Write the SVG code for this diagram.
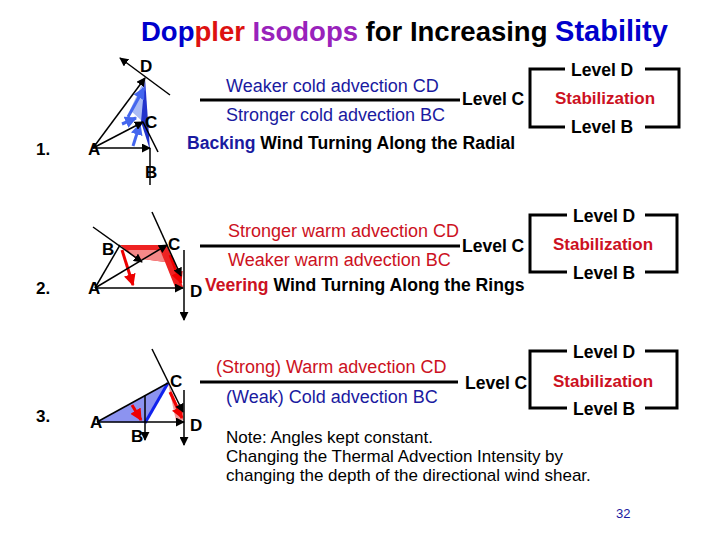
<svg xmlns="http://www.w3.org/2000/svg" width="720" height="540" viewBox="0 0 720 540">
<defs>
<marker id="ah" viewBox="0 0 10 10" refX="9" refY="5" markerWidth="6" markerHeight="6" orient="auto-start-reverse"><path d="M0,0L10,5L0,10z" fill="#000"/></marker>
<marker id="ab" viewBox="0 0 10 10" refX="9" refY="5" markerWidth="4" markerHeight="4" orient="auto"><path d="M0,0L10,5L0,10z" fill="#4466ee"/></marker>
<marker id="ar" viewBox="0 0 10 10" refX="9" refY="5" markerWidth="4" markerHeight="4" orient="auto"><path d="M0,0L10,5L0,10z" fill="#e00"/></marker>
</defs>
<style>
text{font-family:"Liberation Sans",Arial,sans-serif}
.b{font-weight:bold;font-size:17.6px;fill:#000}
.lb{font-weight:bold;font-size:17px;fill:#000}
.lv{font-weight:bold;font-size:17.5px}
.st{font-weight:bold;font-size:17px;fill:#cc1122}
.ls{stroke:#000;stroke-width:1.5;fill:none}
.brk{stroke:#000;stroke-width:3;fill:none}
.bl{font-size:18px;fill:#1a1aa0}
.rd{font-size:18px;fill:#cc1122}
.bw{stroke:#4466ee;stroke-width:3;fill:none;marker-end:url(#ab)}
.rw{stroke:#e00;stroke-width:3;fill:none;marker-end:url(#ar)}
</style>
<rect width="720" height="540" fill="#fff"/>
<text x="141" y="41" font-size="27.5" font-weight="bold"><tspan fill="#0000cc">Dop</tspan><tspan fill="#dd1111">pler</tspan> <tspan fill="#9922bb">Isodops</tspan> <tspan fill="#000">for Increasing</tspan> <tspan fill="#0000cc" font-size="29">Stability</tspan></text>

<g id="hodo1">
<polygon points="130,110 145,78 143,122" fill="#aabbf5"/>
<polygon points="145,78 150,150 141,122" fill="#2233cc"/>
<path class="bw" d="M128,117 L144,88"/><path class="bw" d="M122,124 L136,118"/><path class="bw" d="M133,146 L140,124"/>
<line class="ls" x1="93" y1="148" x2="145" y2="78" marker-end="url(#ah)"/>
<line class="ls" x1="93" y1="148" x2="143" y2="122" marker-end="url(#ah)"/>
<line class="ls" x1="93" y1="148" x2="150" y2="148" marker-end="url(#ah)"/>
<line class="ls" x1="150" y1="148" x2="150" y2="185"/>
<line class="ls" x1="143" y1="122" x2="158" y2="152"/>
<line class="ls" x1="170" y1="95" x2="120" y2="58" marker-end="url(#ah)"/>
<text x="140" y="72" class="lb">D</text><text x="145" y="128" class="lb">C</text><text x="88" y="155" class="lb">A</text><text x="145" y="178" class="lb">B</text>
<text x="36" y="155" class="lb">1.</text>
</g>

<g id="hodo2">
<polygon points="120,245 167,245 183,287 175,287 165,262 135,258" fill="#ee2222"/>
<polygon points="135,258 165,262 160,250 128,250" fill="#f58888"/>
<path class="rw" d="M122,250 L133,285"/><path class="rw" d="M170,255 L181,283"/>
<line class="ls" x1="95" y1="288" x2="120" y2="245"/>
<line class="ls" x1="95" y1="288" x2="167" y2="245" marker-end="url(#ah)"/>
<line class="ls" x1="95" y1="288" x2="183" y2="288" marker-end="url(#ah)"/>
<line class="ls" x1="93" y1="227" x2="142" y2="262" marker-end="url(#ah)"/>
<line class="ls" x1="152" y1="212" x2="181" y2="276" marker-end="url(#ah)"/>
<line class="ls" x1="184" y1="250" x2="184" y2="320" marker-end="url(#ah)"/>
<text x="102" y="255" class="lb">B</text><text x="168" y="250" class="lb">C</text><text x="88" y="294" class="lb">A</text><text x="190" y="297" class="lb">D</text>
<text x="36" y="294" class="lb">2.</text>
</g>

<g id="hodo3">
<polygon points="97,422 168,383 145,423" fill="#8c93f0"/>
<polygon points="168,383 184,420 176,421" fill="#f49999"/>
<path class="rw" d="M132,405 L141,420"/><path class="rw" d="M170,392 L182,418"/>
<line x1="145" y1="423" x2="168" y2="383" stroke="#1122ee" stroke-width="3"/>
<line class="ls" x1="97" y1="422" x2="168" y2="383"/>
<line class="ls" x1="97" y1="422" x2="184" y2="422" marker-end="url(#ah)"/>
<line class="ls" x1="152" y1="349" x2="183" y2="412" marker-end="url(#ah)"/>
<line class="ls" x1="145" y1="395" x2="145" y2="440" marker-end="url(#ah)"/>
<line class="ls" x1="184" y1="390" x2="184" y2="445" marker-end="url(#ah)"/>
<text x="170" y="387" class="lb">C</text><text x="90" y="428" class="lb">A</text><text x="131" y="442" class="lb">B</text><text x="190" y="431" class="lb">D</text>
<text x="36" y="422" class="lb">3.</text>
</g>

<g id="connectors">
<line class="brk" x1="200" y1="100" x2="460" y2="100"/>
<line class="brk" x1="200" y1="246" x2="460" y2="246"/>
<line class="brk" x1="200" y1="382" x2="458" y2="382"/>
<path class="brk" d="M565,69 H530 V127 H565 M645,69 H679 V127 H645"/>
<path class="brk" d="M567,215 H530 V272 H567 M645,215 H677 V272 H645"/>
<path class="brk" d="M567,351 H530 V408 H567 M645,351 H677 V408 H645"/>
</g>

<g id="text1">
<text x="226" y="92" class="bl">Weaker cold advection CD</text>
<text x="226" y="121" class="bl">Stronger cold advection BC</text>
<text x="462" y="105" class="lv">Level C</text>
<text x="187" y="149" class="b"><tspan fill="#1a1aa0">Backing</tspan> Wind Turning Along the Radial</text>
<text x="571" y="76" class="lv">Level D</text><text x="555" y="104" class="st">Stabilization</text><text x="571" y="133" class="lv">Level B</text>
</g>
<g id="text2">
<text x="228" y="237" class="rd">Stronger warm advection CD</text>
<text x="228" y="266" class="rd">Weaker warm advection BC</text>
<text x="462" y="252" class="lv">Level C</text>
<text x="205" y="291" class="b"><tspan fill="#cc1122">Veering</tspan> Wind Turning Along the Rings</text>
<text x="573" y="222" class="lv">Level D</text><text x="553" y="250" class="st">Stabilization</text><text x="573" y="279" class="lv">Level B</text>
</g>
<g id="text3">
<text x="216" y="373" class="rd">(Strong) Warm advection CD</text>
<text x="226" y="403" class="bl">(Weak) Cold advection BC</text>
<text x="465" y="389" class="lv">Level C</text>
<text x="573" y="358" class="lv">Level D</text><text x="553" y="387" class="st">Stabilization</text><text x="573" y="415" class="lv">Level B</text>
<text x="226" y="443" font-size="17">Note: Angles kept constant.</text>
<text x="226" y="462" font-size="17">Changing the Thermal Advection Intensity by</text>
<text x="226" y="481" font-size="17">changing the depth of the directional wind shear.</text>
<text x="616" y="518" font-size="13" fill="#1a1aa0">32</text>
</g>
</svg>
